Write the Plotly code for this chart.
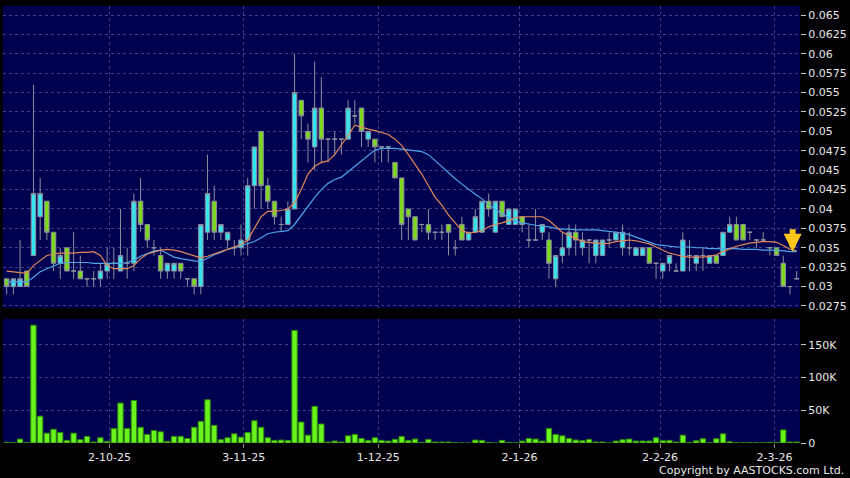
import plotly.graph_objects as go

# daily candles, oldest first (trading-day index on the x axis)
opens = [
    0.031, 0.030, 0.030, 0.032, 0.034, 0.039, 0.041, 0.037, 0.033, 0.035,
    0.032, 0.032, 0.031, 0.031, 0.031, 0.032, 0.033, 0.032, 0.033, 0.033,
    0.041, 0.038, 0.035, 0.034, 0.032, 0.032, 0.033, 0.031, 0.031, 0.030,
    0.037, 0.041, 0.037, 0.036, 0.035, 0.035, 0.036, 0.043, 0.050, 0.043,
    0.041, 0.038, 0.038, 0.040, 0.054, 0.050, 0.048, 0.053, 0.049, 0.049,
    0.049, 0.049, 0.052, 0.053, 0.049, 0.049, 0.048, 0.048, 0.046, 0.044,
    0.040, 0.039, 0.038, 0.038, 0.037, 0.037, 0.038, 0.035, 0.038, 0.036,
    0.037, 0.037, 0.041, 0.037, 0.041, 0.038, 0.038, 0.039, 0.036, 0.036,
    0.037, 0.036, 0.031, 0.034, 0.035, 0.037, 0.035, 0.036, 0.034, 0.034,
    0.036, 0.036, 0.035, 0.035, 0.034, 0.034, 0.035, 0.033, 0.032, 0.033,
    0.032, 0.032, 0.034, 0.033, 0.034, 0.033, 0.034, 0.034, 0.037, 0.038,
    0.038, 0.037, 0.036, 0.036, 0.035, 0.035, 0.033, 0.030, 0.031]
highs = [
    0.031, 0.031, 0.036, 0.032, 0.056, 0.044, 0.041, 0.037, 0.035, 0.035,
    0.037, 0.034, 0.031, 0.032, 0.033, 0.035, 0.035, 0.040, 0.035, 0.042,
    0.044, 0.038, 0.036, 0.035, 0.033, 0.033, 0.033, 0.031, 0.031, 0.038,
    0.047, 0.043, 0.038, 0.037, 0.036, 0.038, 0.044, 0.048, 0.050, 0.044,
    0.041, 0.039, 0.041, 0.060, 0.054, 0.051, 0.059, 0.057, 0.049, 0.050,
    0.049, 0.054, 0.054, 0.053, 0.050, 0.049, 0.048, 0.048, 0.046, 0.044,
    0.040, 0.039, 0.038, 0.040, 0.037, 0.038, 0.038, 0.036, 0.039, 0.037,
    0.040, 0.041, 0.042, 0.041, 0.041, 0.040, 0.040, 0.039, 0.038, 0.040,
    0.038, 0.037, 0.034, 0.037, 0.038, 0.038, 0.037, 0.036, 0.036, 0.036,
    0.037, 0.037, 0.038, 0.037, 0.035, 0.035, 0.035, 0.033, 0.033, 0.034,
    0.033, 0.037, 0.036, 0.034, 0.035, 0.034, 0.034, 0.037, 0.039, 0.039,
    0.038, 0.037, 0.036, 0.037, 0.035, 0.035, 0.034, 0.030, 0.032]
lows = [
    0.029, 0.029, 0.030, 0.030, 0.034, 0.036, 0.036, 0.032, 0.031, 0.032,
    0.031, 0.031, 0.030, 0.030, 0.030, 0.031, 0.031, 0.032, 0.031, 0.032,
    0.037, 0.035, 0.034, 0.031, 0.031, 0.031, 0.031, 0.030, 0.029, 0.029,
    0.036, 0.036, 0.036, 0.035, 0.034, 0.034, 0.034, 0.040, 0.040, 0.040,
    0.038, 0.037, 0.038, 0.040, 0.049, 0.046, 0.045, 0.046, 0.046, 0.047,
    0.047, 0.049, 0.051, 0.048, 0.048, 0.046, 0.046, 0.046, 0.044, 0.036,
    0.036, 0.036, 0.037, 0.036, 0.036, 0.036, 0.034, 0.034, 0.036, 0.036,
    0.037, 0.037, 0.039, 0.037, 0.039, 0.038, 0.038, 0.037, 0.035, 0.036,
    0.036, 0.031, 0.030, 0.033, 0.034, 0.034, 0.034, 0.033, 0.033, 0.034,
    0.035, 0.036, 0.034, 0.034, 0.034, 0.034, 0.033, 0.031, 0.031, 0.032,
    0.032, 0.032, 0.032, 0.032, 0.032, 0.033, 0.033, 0.034, 0.037, 0.036,
    0.036, 0.036, 0.035, 0.036, 0.034, 0.034, 0.030, 0.029, 0.031]
closes = [
    0.030, 0.031, 0.031, 0.030, 0.042, 0.042, 0.037, 0.033, 0.034, 0.032,
    0.032, 0.031, 0.031, 0.031, 0.032, 0.033, 0.033, 0.034, 0.033, 0.041,
    0.038, 0.036, 0.035, 0.032, 0.033, 0.033, 0.032, 0.031, 0.030, 0.038,
    0.042, 0.037, 0.038, 0.037, 0.035, 0.036, 0.043, 0.048, 0.043, 0.041,
    0.039, 0.038, 0.040, 0.055, 0.052, 0.049, 0.053, 0.049, 0.049, 0.049,
    0.049, 0.053, 0.052, 0.050, 0.050, 0.048, 0.048, 0.048, 0.044, 0.038,
    0.039, 0.036, 0.038, 0.037, 0.037, 0.037, 0.037, 0.035, 0.036, 0.037,
    0.039, 0.041, 0.040, 0.041, 0.039, 0.040, 0.040, 0.038, 0.036, 0.036,
    0.038, 0.033, 0.034, 0.035, 0.037, 0.036, 0.036, 0.036, 0.036, 0.036,
    0.036, 0.037, 0.037, 0.035, 0.035, 0.035, 0.033, 0.033, 0.033, 0.034,
    0.032, 0.036, 0.034, 0.034, 0.034, 0.034, 0.033, 0.037, 0.038, 0.036,
    0.036, 0.037, 0.036, 0.036, 0.035, 0.034, 0.030, 0.030, 0.031]
volumes = [
    1000, 500, 6000, 500, 180000, 41000, 15000, 21000, 16000, 4000,
    15000, 5000, 10000, 1500, 8000, 2500, 22000, 61000, 22000, 65000,
    24000, 13000, 19000, 17000, 2500, 10000, 10000, 7000, 24000, 33000,
    66000, 27000, 5000, 8000, 14000, 9000, 16000, 34000, 24000, 8000,
    4000, 4500, 4000, 172000, 32000, 12000, 56000, 29000, 1500, 3000,
    1500, 11000, 13000, 7000, 4000, 8000, 4000, 3000, 5500, 10000,
    4000, 6000, 1000, 5500, 1500, 1500, 1500, 500, 0, 0,
    4500, 4000, 1000, 0, 4000, 1000, 300, 3000, 7000, 6000,
    3000, 22000, 13000, 11000, 7000, 4500, 3500, 5500, 1500, 1500,
    200, 3000, 5000, 6000, 3000, 3000, 3000, 8000, 3500, 4000,
    1500, 12000, 1000, 3500, 6500, 300, 6500, 14000, 2000, 300,
    300, 300, 300, 300, 1000, 1000, 20000, 1500, 1500]
# moving averages as drawn (orange = short, blue = long)
ma_short = [
    0.0320, 0.0319, 0.0318, 0.0317, 0.0327, 0.0334, 0.0340, 0.0342, 0.0343, 0.0343,
    0.0343, 0.0344, 0.0344, 0.0345, 0.0340, 0.0327, 0.0323, 0.0323, 0.0323, 0.0327,
    0.0336, 0.0342, 0.0345, 0.0347, 0.0348, 0.0347, 0.0345, 0.0342, 0.0339, 0.0337,
    0.0339, 0.0342, 0.0345, 0.0349, 0.0351, 0.0354, 0.0360, 0.0375, 0.0390, 0.0397,
    0.0397, 0.0398, 0.0400, 0.0408, 0.0425, 0.0445, 0.0455, 0.0460, 0.0462, 0.0470,
    0.0482, 0.0495, 0.0508, 0.0505, 0.0503, 0.0501, 0.0499, 0.0496, 0.0490, 0.0482,
    0.0470, 0.0458, 0.0445, 0.0430, 0.0415, 0.0405, 0.0392, 0.0382, 0.0372, 0.0369,
    0.0370, 0.0372, 0.0377, 0.0380, 0.0382, 0.0385, 0.0389, 0.0390, 0.0390, 0.0390,
    0.0390, 0.0385, 0.0377, 0.0370, 0.0366, 0.0362, 0.0358, 0.0357, 0.0356, 0.0355,
    0.0356, 0.0358, 0.0359, 0.0360, 0.0359, 0.0357, 0.0355, 0.0351, 0.0347, 0.0343,
    0.0341, 0.0339, 0.0338, 0.0338, 0.0338, 0.0339, 0.0341, 0.0345, 0.0349, 0.0352,
    0.0354, 0.0356, 0.0357, 0.0358, 0.0358, 0.0357, 0.0353, 0.0348, 0.0346]
ma_long = [
    0.0306, 0.0306, 0.0306, 0.0306, 0.0312, 0.0319, 0.0323, 0.0327, 0.0330, 0.0331,
    0.0331, 0.0331, 0.0331, 0.0330, 0.0330, 0.0330, 0.0330, 0.0330, 0.0331, 0.0334,
    0.0339, 0.0343, 0.0346, 0.0347, 0.0342, 0.0338, 0.0336, 0.0334, 0.0333, 0.0332,
    0.0337, 0.0341, 0.0344, 0.0348, 0.0350, 0.0353, 0.0355, 0.0358, 0.0363, 0.0368,
    0.0370, 0.0371, 0.0372, 0.0380, 0.0392, 0.0403, 0.0415, 0.0425, 0.0433, 0.0438,
    0.0441, 0.0448, 0.0455, 0.0462, 0.0468, 0.0476, 0.0478, 0.0478, 0.0478, 0.0477,
    0.0476, 0.0475, 0.0474, 0.0470, 0.0462, 0.0455, 0.0446, 0.0439, 0.0432, 0.0425,
    0.0419, 0.0413, 0.0406, 0.0399, 0.0394, 0.0389, 0.0384, 0.0382, 0.0380, 0.0379,
    0.0378, 0.0377, 0.0375, 0.0374, 0.0374, 0.0373, 0.0373, 0.0373, 0.0373, 0.0372,
    0.0371, 0.0370, 0.0369, 0.0367, 0.0364, 0.0360, 0.0357, 0.0354, 0.0353, 0.0352,
    0.0351, 0.0351, 0.0351, 0.0350, 0.0350, 0.0349, 0.0349, 0.0349, 0.0349, 0.0349,
    0.0348, 0.0348, 0.0348, 0.0347, 0.0347, 0.0347, 0.0346, 0.0345, 0.0345]

date_ticks = [15.35, 35.4, 55.5, 76.6, 97.6, 114.7]
date_labels = ['2-10-25', '3-11-25', '1-12-25', '2-1-26', '2-2-26', '2-3-26']
price_ticks = [0.0275, 0.03, 0.0325, 0.035, 0.0375, 0.04, 0.0425, 0.045, 0.0475,
               0.05, 0.0525, 0.055, 0.0575, 0.06, 0.0625, 0.065]
price_labels = ['0.0275', '0.03', '0.0325', '0.035', '0.0375', '0.04', '0.0425', '0.045',
                '0.0475', '0.05', '0.0525', '0.055', '0.0575', '0.06', '0.0625', '0.065']
vol_ticks = [0, 50000, 100000, 150000]
vol_labels = ['0', '50K', '100K', '150K']

days = list(range(len(closes)))

grid = '#3e3e88'
txt = '#e8e8e8'
font_family = 'DejaVu Sans'

fig = go.Figure()
fig.add_trace(go.Candlestick(
    x=days, open=opens, high=highs, low=lows, close=closes,
    increasing=dict(fillcolor='#36e4f0', line=dict(color='#8e8e9e', width=1)),
    decreasing=dict(fillcolor='#7ed81e', line=dict(color='#8e8e9e', width=1)),
    whiskerwidth=0, showlegend=False, hoverinfo='skip'))
fig.add_trace(go.Scatter(x=days, y=ma_long, mode='lines',
                         line=dict(color='#4ea6e6', width=1.2), showlegend=False))
fig.add_trace(go.Scatter(x=days, y=ma_short, mode='lines',
                         line=dict(color='#e08858', width=1.2), showlegend=False))
fig.add_trace(go.Bar(x=days, y=volumes, xaxis='x2', yaxis='y2', width=0.8,
                     marker=dict(color='#68f41c', line=dict(color='#2e8a0c', width=1)),
                     showlegend=False))

axis_common = dict(showgrid=True, gridcolor=grid, griddash='dot', gridwidth=1,
                   zeroline=False, showline=False)

fig.update_layout(
    width=850, height=478,
    margin=dict(l=3, r=50, t=6, b=35),
    paper_bgcolor='black', plot_bgcolor='#000050',
    font=dict(family=font_family, size=11, color=txt),
    bargap=0.2, boxgap=0.05,
    xaxis=dict(domain=[0, 1], range=[-0.55, 118.5], anchor='y',
               tickvals=date_ticks, showticklabels=False,
               rangeslider=dict(visible=False), **axis_common),
    xaxis2=dict(domain=[0, 1], matches='x', anchor='y2',
                tickvals=date_ticks, ticktext=date_labels,
                ticks='outside', ticklen=4, tickcolor='#888888',
                tickfont=dict(size=11, color=txt), **axis_common),
    yaxis=dict(domain=[0.309, 1], range=[0.02724, 0.06616], side='right',
               tickvals=price_ticks, ticktext=price_labels,
               ticks='outside', ticklen=5, tickcolor='#cccccc',
               tickfont=dict(size=11, color=txt), **axis_common),
    yaxis2=dict(domain=[0, 0.284], range=[0, 189600], side='right', anchor='x2',
                tickvals=vol_ticks, ticktext=vol_labels,
                ticks='outside', ticklen=5, tickcolor='#cccccc',
                tickfont=dict(size=11, color=txt), **axis_common),
)

# latest-price marker arrow
fig.add_annotation(x=days[-1], y=ma_long[-1], xref='x', yref='y', xshift=-4,
                   text='', showarrow=True, ax=0, ay=-24, arrowhead=2,
                   arrowsize=0.6, arrowwidth=6, arrowcolor='#ffc61a', standoff=0)

fig.add_annotation(text='Copyright by AASTOCKS.com Ltd.', xref='paper', yref='paper',
                   x=1.0577, y=-0.062, xanchor='right', yanchor='middle',
                   showarrow=False, font=dict(size=11, color=txt))

# drop the default page margin so the figure sits flush at the window's corner
fig.write_html("out.html", config={'displayModeBar': False},
               post_script="document.body.style.margin='0';")
